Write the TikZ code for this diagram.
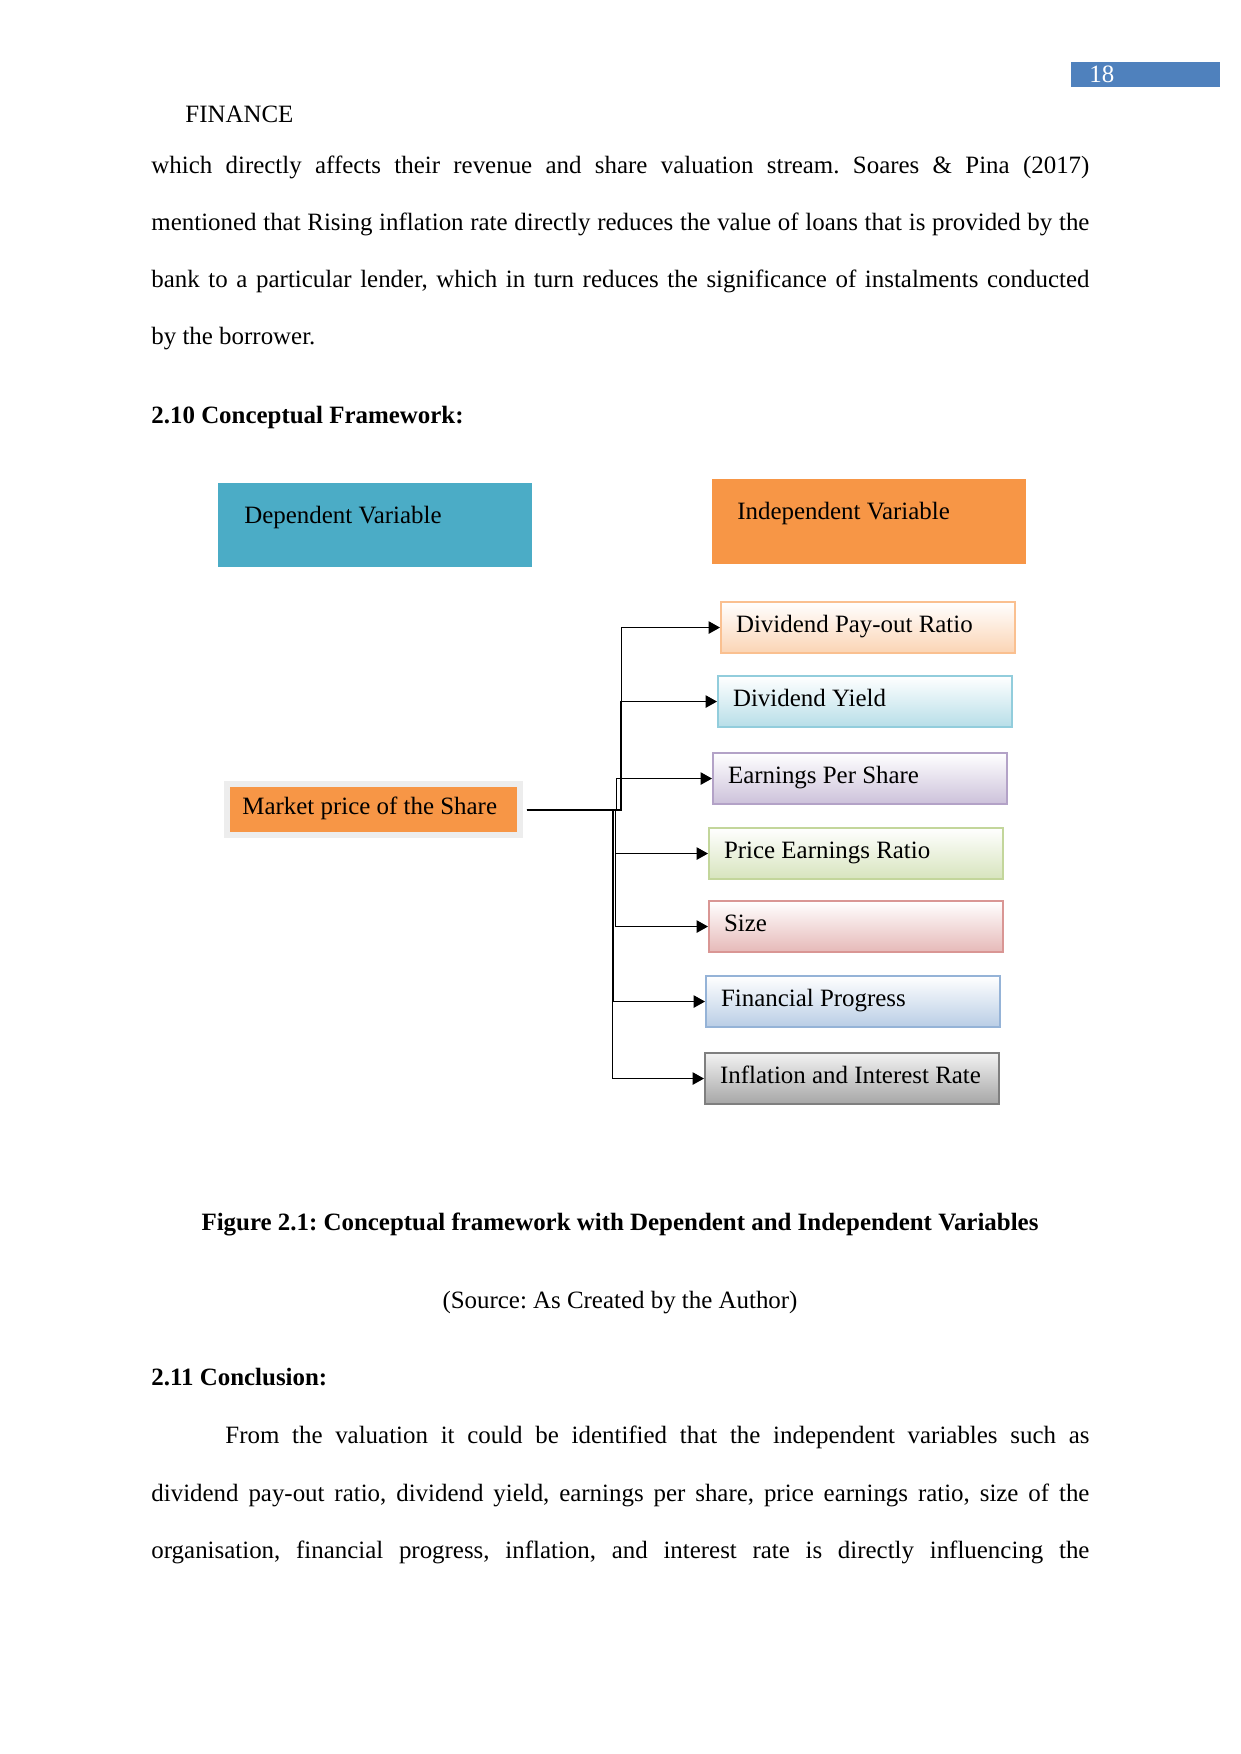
\documentclass[tikz,border=0pt]{standalone}
\usepackage{fontspec}
\setmainfont{Liberation Serif}
\usetikzlibrary{arrows.meta,calc,positioning}
\newlength{\pxu}\setlength{\pxu}{0.16925mm}
\definecolor{pageblue}{HTML}{4F81BD}
\definecolor{depblue}{HTML}{4BACC6}
\definecolor{indorange}{HTML}{F79646}
\definecolor{dprfill}{HTML}{FBD4B4}\definecolor{dprline}{HTML}{FAC090}
\definecolor{dyfill}{HTML}{B7DEE8}\definecolor{dyline}{HTML}{92CDDC}
\definecolor{epsfill}{HTML}{CCC1DA}\definecolor{epsline}{HTML}{B3A2C7}
\definecolor{perfill}{HTML}{D7E4BD}\definecolor{perline}{HTML}{C3D69B}
\definecolor{sizefill}{HTML}{E6B9B8}\definecolor{sizeline}{HTML}{D99694}
\definecolor{fpfill}{HTML}{B9CDE5}\definecolor{fpline}{HTML}{95B3D7}
\definecolor{iirtop}{HTML}{F2F2F2}\definecolor{iirfill}{HTML}{A6A6A6}\definecolor{iirline}{HTML}{7F7F7F}
\newcommand{\jline}[2]{\makebox[#1\pxu][s]{#2}}
\frenchspacing

\begin{document}
\begin{tikzpicture}[x=\pxu,y=-\pxu,font=\fontsize{12}{14}\selectfont,>={Triangle[length=5.5pt,width=6pt]},
  txt/.style={anchor=base west,inner sep=0pt},
  var/.style={anchor=north west,inner xsep=15\pxu,inner ysep=0pt,
    text height=30\pxu,text depth=21\pxu,line width=1pt},
  link/.style={->,line width=0.6pt}]
\path[use as bounding box,fill=white] (0,0) rectangle (1241,1754);
% page header
\node[anchor=north west,fill=pageblue,text=white,inner xsep=18\pxu,inner ysep=0pt,
  text height=20\pxu,text depth=5\pxu] (pgno) at (1071,62) {\makebox[113\pxu][l]{18}};
\node[txt] (head) at (185,122) {FINANCE};
% text above the figure
\node[txt] (p1) at (151,173) {\jline{938}{which directly affects their revenue and share valuation stream. Soares \& Pina (2017)}};
\node[txt] (p2) at (151,230) {\jline{938}{mentioned that Rising inflation rate directly reduces the value of loans that is provided by the}};
\node[txt] (p3) at (151,287) {\jline{938}{bank to a particular lender, which in turn reduces the significance of instalments conducted}};
\node[txt] (p4) at (151,344) {by the borrower.};
\node[txt,font=\fontsize{12}{14}\selectfont\bfseries] (sec) at (151,423) {2.10 Conceptual Framework:};
% framework
\node[anchor=north west,fill=depblue,inner xsep=26\pxu,inner ysep=0pt,
  text height=40\pxu,text depth=44\pxu] (dep) at (218,483) {\makebox[262\pxu][l]{Dependent Variable}};
\node[anchor=north west,fill=indorange,inner xsep=25\pxu,inner ysep=0pt,
  text height=40\pxu,text depth=45\pxu] (ind) at (712,479) {\makebox[264\pxu][l]{Independent Variable}};
\node[anchor=north west,fill=indorange,inner xsep=12\pxu,inner ysep=0pt,
  text height=27\pxu,text depth=18\pxu,preaction={draw=black!7,line width=12\pxu}] (msh) at (230,787)
  {\makebox[263\pxu][l]{Market price of the Share}};
\foreach \nm/\x/\y/\tc/\fc/\dc/\lbl in {dpr/720/601/white/dprfill/dprline/Dividend Pay-out Ratio,
  dy/717/675/white/dyfill/dyline/Dividend Yield,
  eps/712/752/white/epsfill/epsline/Earnings Per Share,
  per/708/827/white/perfill/perline/Price Earnings Ratio,
  size/708/900/white/sizefill/sizeline/Size,
  fp/705/975/white/fpfill/fpline/Financial Progress,
  iir/704/1052/iirtop/iirfill/iirline/Inflation and Interest Rate}
  \node[var,top color=\tc,bottom color=\fc,draw=\dc] (\nm) at (\x,\y) {\makebox[264\pxu][l]{\lbl}};
\foreach \nm/\dx in {dpr/104,dy/103,eps/99,per/98,size/98,fp/96,iir/95}
  \draw[link] ($(msh.east)+(9,0)$) -- ($(msh.east)+(\dx,0)$) |- (\nm.west);
% caption
\node[anchor=base,inner sep=0pt,font=\fontsize{12}{14}\selectfont\bfseries] (cap) at (620,1230)
  {Figure 2.1: Conceptual framework with Dependent and Independent Variables};
\node[anchor=base,inner sep=0pt] (src) at (620,1308) {(Source: As Created by the Author)};
% conclusion
\node[txt,font=\fontsize{12}{14}\selectfont\bfseries] (concl) at (151,1385) {2.11 Conclusion:};
\node[txt] (c1) at (225,1443) {\jline{864}{From the valuation it could be identified that the independent variables such as}};
\node[txt] (c2) at (151,1501) {\jline{938}{dividend pay-out ratio, dividend yield, earnings per share, price earnings ratio, size of the}};
\node[txt] (c3) at (151,1558) {\jline{938}{organisation, financial progress, inflation, and interest rate is directly influencing the}};
\end{tikzpicture}
\end{document}
